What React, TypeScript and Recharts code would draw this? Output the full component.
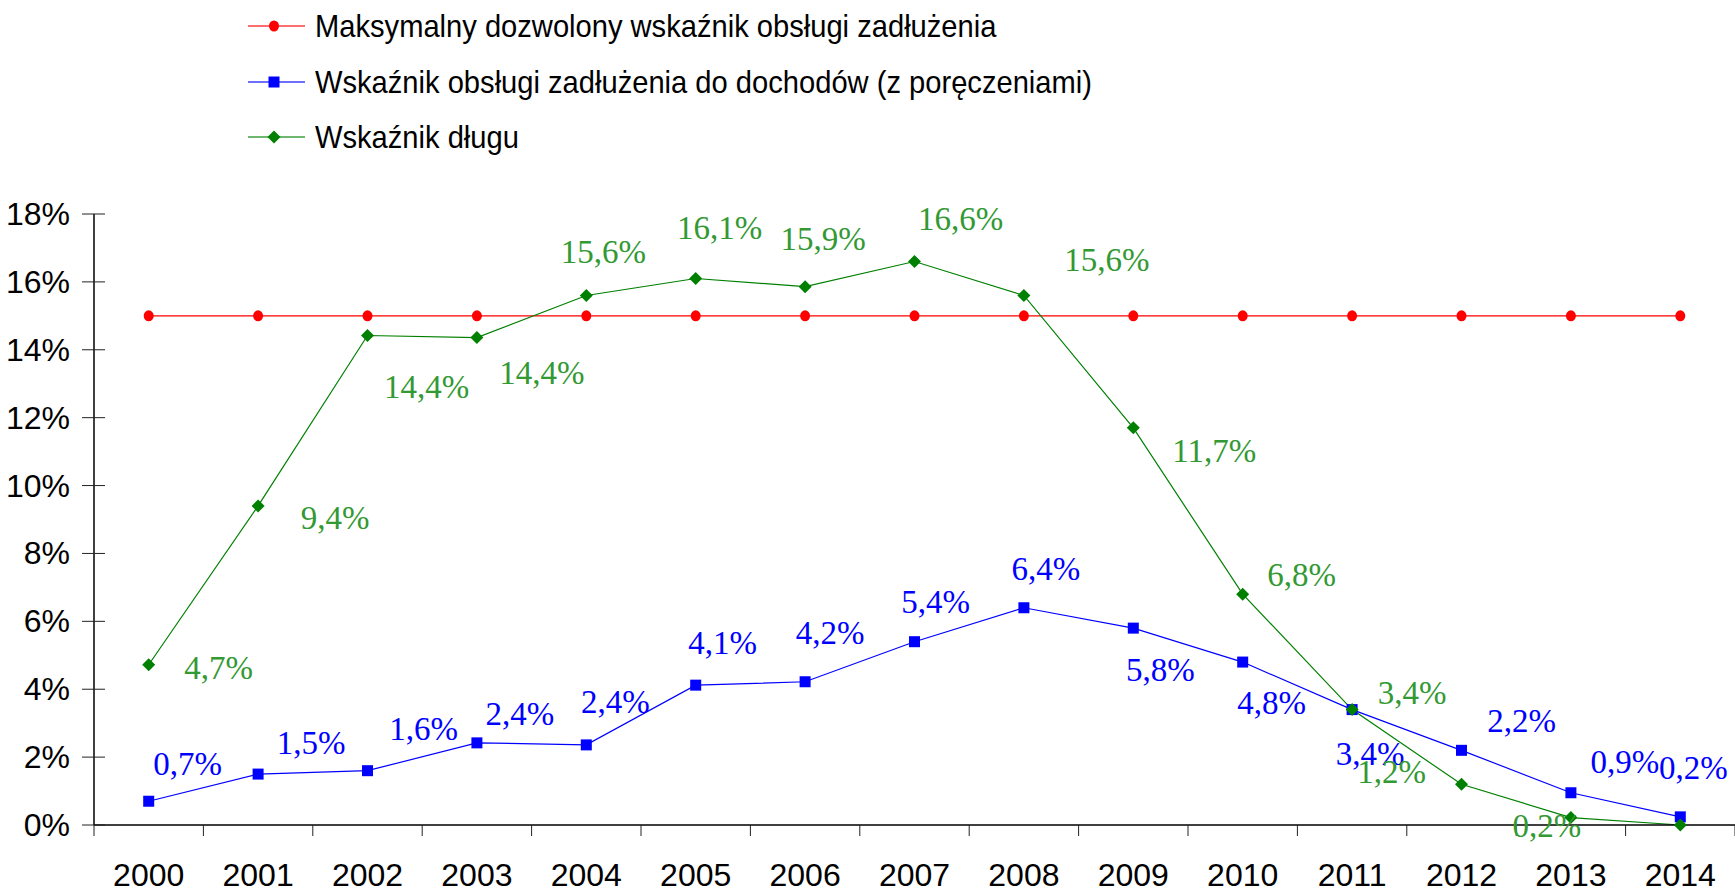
import React from 'react';
import { LineChart, Line, XAxis, YAxis, Legend, LabelList } from 'recharts';

const years = ['2000','2001','2002','2003','2004','2005','2006','2007','2008','2009','2010','2011','2012','2013','2014'];
const maxAllowed = [15,15,15,15,15,15,15,15,15,15,15,15,15,15,15];
const debtServiceRatio = [0.7,1.5,1.6,2.42,2.36,4.12,4.22,5.4,6.4,5.8,4.8,3.4,2.2,0.95,0.24];
const debtRatio = [4.72,9.4,14.42,14.36,15.6,16.1,15.86,16.6,15.6,11.7,6.8,3.4,1.2,0.22,0];
const yTicks = [0,2,4,6,8,10,12,14,16,18];

const seriesNames = {
  max: 'Maksymalny dozwolony wskaźnik obsługi zadłużenia',
  blue: 'Wskaźnik obsługi zadłużenia do dochodów (z poręczeniami)',
  green: 'Wskaźnik długu',
};

// label placement offsets (px) relative to each point
const blueLabelOffsets: [number, number][] = [
  [39,-37],[53,-31],[56,-42],[43,-29],[29,-43],[27,-42],[25,-49],[21,-40],[22,-39],[27,42],[29,41],[18,44],[60,-29],[54,-31],[13,-49],
];
const greenLabelOffsets: ([number, number] | null)[] = [
  [70,3],[77,12],[59,51],[65,35],[17,-43],[24,-50],[18,-48],[46,-43],[83,-35],[81,23],[59,-19],[60,-17],[-70,-12],[-24,8],null,
];

const data = years.map((y, i) => ({
  year: y,
  max: maxAllowed[i],
  blue: debtServiceRatio[i],
  green: debtRatio[i],
}));

const SANS = "'Liberation Sans', Arial, sans-serif";
const SERIF = "'Liberation Serif', 'Times New Roman', serif";
const fmt = (v: number) => v.toFixed(1).replace('.', ',') + '%';

const PLOT_W = 1641;
const HALF_BAND = PLOT_W / years.length / 2;

const XTick = (props: any) => {
  const { x, y, payload, index } = props;
  const half = typeof payload?.offset === 'number' && payload.offset > 0 ? payload.offset : HALF_BAND;
  return (
    <g>
      <line x1={x - half} x2={x - half} y1={y} y2={y + 11} stroke="#222" strokeWidth={1} />
      {index === years.length - 1 && (
        <line x1={x + half} x2={x + half} y1={y} y2={y + 11} stroke="#222" strokeWidth={1} />
      )}
      <text x={x} y={y + 61} textAnchor="middle" fontFamily={SANS} fontSize={32} fill="#000">
        {payload.value}
      </text>
    </g>
  );
};

const YTick = (props: any) => {
  const { x, y, payload } = props;
  return (
    <g>
      <line x1={x - 12} x2={x + 11} y1={y} y2={y} stroke="#222" strokeWidth={1} />
      <text x={x - 24} y={y + 11} textAnchor="end" fontFamily={SANS} fontSize={32} fill="#000">
        {payload.value}%
      </text>
    </g>
  );
};

const RedDot = (p: any) => (
  <ellipse key={`r${p.index}`} cx={p.cx} cy={p.cy} rx={5} ry={5.5} fill="#ff0000" />
);
const BlueDot = (p: any) => (
  <rect key={`b${p.index}`} x={p.cx - 5.5} y={p.cy - 5.5} width={11} height={11} fill="#0000ff" />
);
const GreenDot = (p: any) => (
  <path
    key={`g${p.index}`}
    d={`M${p.cx},${p.cy - 6.5} L${p.cx + 6.5},${p.cy} L${p.cx},${p.cy + 6.5} L${p.cx - 6.5},${p.cy} Z`}
    fill="#008000"
  />
);

const makeLabel = (offsets: ([number, number] | null)[], color: string) => (props: any) => {
  const { x, y, value, index } = props;
  const off = offsets[index];
  if (!off || x == null || y == null) return null;
  return (
    <text
      x={x + off[0]}
      y={y + off[1] + 11}
      textAnchor="middle"
      fontFamily={SERIF}
      fontSize={33}
      fill={color}
    >
      {fmt(value)}
    </text>
  );
};

const LegendContent = () => {
  const rows = [
    { name: seriesNames.max, color: '#ff0000', shape: 'circle' },
    { name: seriesNames.blue, color: '#0000ff', shape: 'square' },
    { name: seriesNames.green, color: '#008000', shape: 'diamond' },
  ];
  return (
    <div style={{ position: 'relative', width: 1735, height: 160 }}>
      {rows.map((r, i) => {
        const cy = 26 + i * 55.5;
        return (
          <div key={r.name} style={{ position: 'absolute', left: 248, top: cy - 20, height: 40, display: 'flex', alignItems: 'center' }}>
            <svg width={60} height={40} style={{ display: 'block' }}>
              <line x1={0} x2={57} y1={20} y2={20} stroke={r.color} strokeWidth={1.5} opacity={0.75} />
              {r.shape === 'circle' && <ellipse cx={26} cy={20} rx={5} ry={5.5} fill={r.color} />}
              {r.shape === 'square' && <rect x={20.5} y={14.5} width={11} height={11} fill={r.color} />}
              {r.shape === 'diamond' && <path d="M26,13.5 L32.5,20 L26,26.5 L19.5,20 Z" fill={r.color} />}
            </svg>
            <span
              style={{
                marginLeft: 7,
                fontFamily: SANS,
                fontSize: 32,
                color: '#000',
                whiteSpace: 'nowrap',
                lineHeight: '40px',
                display: 'inline-block',
                transform: 'scaleX(0.91)',
                transformOrigin: 'left center',
              }}
            >
              {r.name}
            </span>
          </div>
        );
      })}
    </div>
  );
};

export default function App() {
  return (
    <div style={{ position: 'absolute', left: 0, top: 0, width: 1735, height: 893, background: '#fff' }}>
      <LineChart width={1735} height={893} data={data} margin={{ top: 54, right: 0, bottom: 0, left: 0 }}>
        <Legend
          verticalAlign="top"
          align="left"
          content={<LegendContent />}
          wrapperStyle={{ top: 0, left: 0, width: 1735, height: 160 }}
        />
        <XAxis
          dataKey="year"
          scale="band"
          interval={0}
          height={68}
          tickSize={0}
          tickMargin={0}
          axisLine={{ stroke: '#000', strokeWidth: 1.5 }}
          tickLine={false}
          tick={<XTick />}
        />
        <YAxis
          width={94}
          domain={[0, 18]}
          ticks={yTicks}
          interval={0}
          tickSize={0}
          tickMargin={0}
          axisLine={{ stroke: '#000', strokeWidth: 1.5 }}
          tickLine={false}
          tick={<YTick />}
        />
        <Line
          dataKey="max"
          name={seriesNames.max}
          stroke="#ff0000"
          strokeWidth={1.2}
          dot={RedDot}
          activeDot={false}
          isAnimationActive={false}
        />
        <Line
          dataKey="blue"
          name={seriesNames.blue}
          stroke="#0000ff"
          strokeWidth={1.2}
          dot={BlueDot}
          activeDot={false}
          isAnimationActive={false}
        >
          <LabelList dataKey="blue" content={makeLabel(blueLabelOffsets, '#0000ff')} />
        </Line>
        <Line
          dataKey="green"
          name={seriesNames.green}
          stroke="#008000"
          strokeWidth={1.2}
          dot={GreenDot}
          activeDot={false}
          isAnimationActive={false}
        >
          <LabelList dataKey="green" content={makeLabel(greenLabelOffsets, '#339933')} />
        </Line>
      </LineChart>
    </div>
  );
}
